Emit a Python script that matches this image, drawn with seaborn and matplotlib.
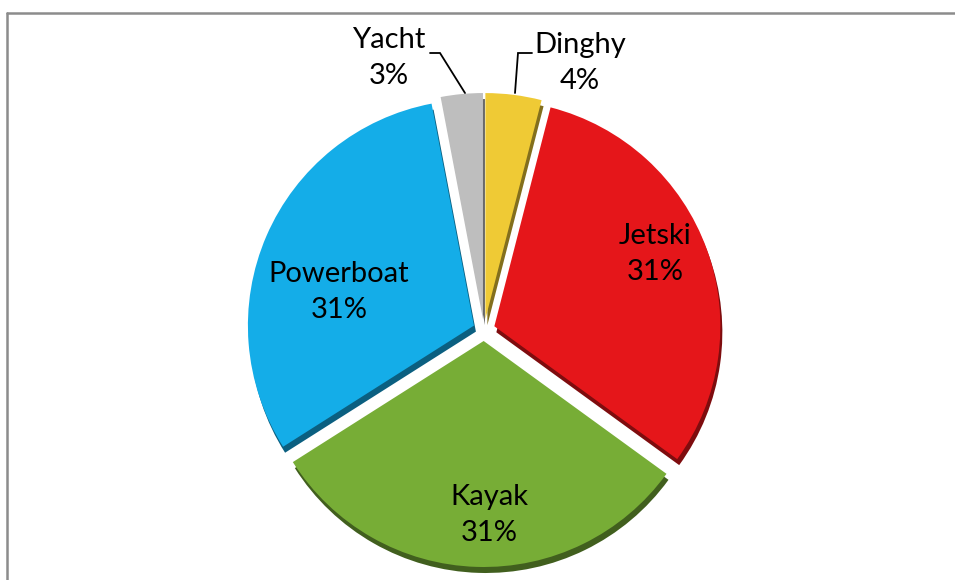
import matplotlib
matplotlib.use("Agg")
import matplotlib.pyplot as plt
from matplotlib.lines import Line2D
import seaborn as sns

# Data
categories = ["Dinghy", "Jetski", "Kayak", "Powerboat", "Yacht"]
shares = [4, 31, 31, 31, 3]
hex_colors = ["#EFCA35", "#E5161A", "#77AD36", "#14ADE8", "#BEBEBE"]

sns.set_theme(style="white")
plt.rcParams["font.family"] = ["Lato", "DejaVu Sans"]

W, H = 955, 580
fig = plt.figure(figsize=(W / 100, H / 100), dpi=100)
ax = fig.add_axes([0, 0, 1, 1])

palette = sns.color_palette(hex_colors)
dark = [tuple(c * 0.55 for c in col) for col in palette]

cx, cy, r = 484, H - 330, 226
# pie explode offsets are in data units (pixels here)
explode = [11] * len(shares)

# extruded side of each slice (darker copy shifted down)
ax.pie(shares, colors=dark, startangle=90, counterclock=False, explode=explode,
       radius=r, center=(cx + 2, cy - 6), frame=True,
       wedgeprops=dict(linewidth=0))
# top face
wedges, _ = ax.pie(shares, colors=palette, startangle=90, counterclock=False,
                   explode=explode, radius=r, center=(cx, cy), frame=True,
                   wedgeprops=dict(linewidth=0))

ax.set_xlim(0, W)
ax.set_ylim(0, H)
ax.set_aspect("equal")
ax.axis("off")

# label anchor points (pixel coordinates, y measured from the top)
label_pos = {
    "Dinghy": (580, 63),
    "Jetski": (655, 254),
    "Kayak": (489, 515),
    "Powerboat": (339, 292),
    "Yacht": (389, 58),
}
for name, val in zip(categories, shares):
    px, py = label_pos[name]
    ax.text(px, H - py, f"{name}\n{val}%", ha="center", va="center",
            fontsize=21, color="black", linespacing=1.5)

# leader lines for the two small slices
leaders = {
    "Yacht": [(430, 53), (440, 53), (465, 93)],
    "Dinghy": [(532, 53), (518, 53), (515, 93)],
}
for pts in leaders.values():
    xs = [p[0] for p in pts]
    ys = [H - p[1] for p in pts]
    ax.plot(xs, ys, color="black", lw=1.3, solid_joinstyle="miter")

# chart area frame
fig.add_artist(Line2D([7 / W, 7 / W], [-0.1, 1 - 13 / H], color="#8c8c8c", lw=1.8))
fig.add_artist(Line2D([7 / W, 1.1], [1 - 13 / H, 1 - 13 / H], color="#8c8c8c", lw=1.8))

fig.savefig("out.png", dpi=100, facecolor="white")
